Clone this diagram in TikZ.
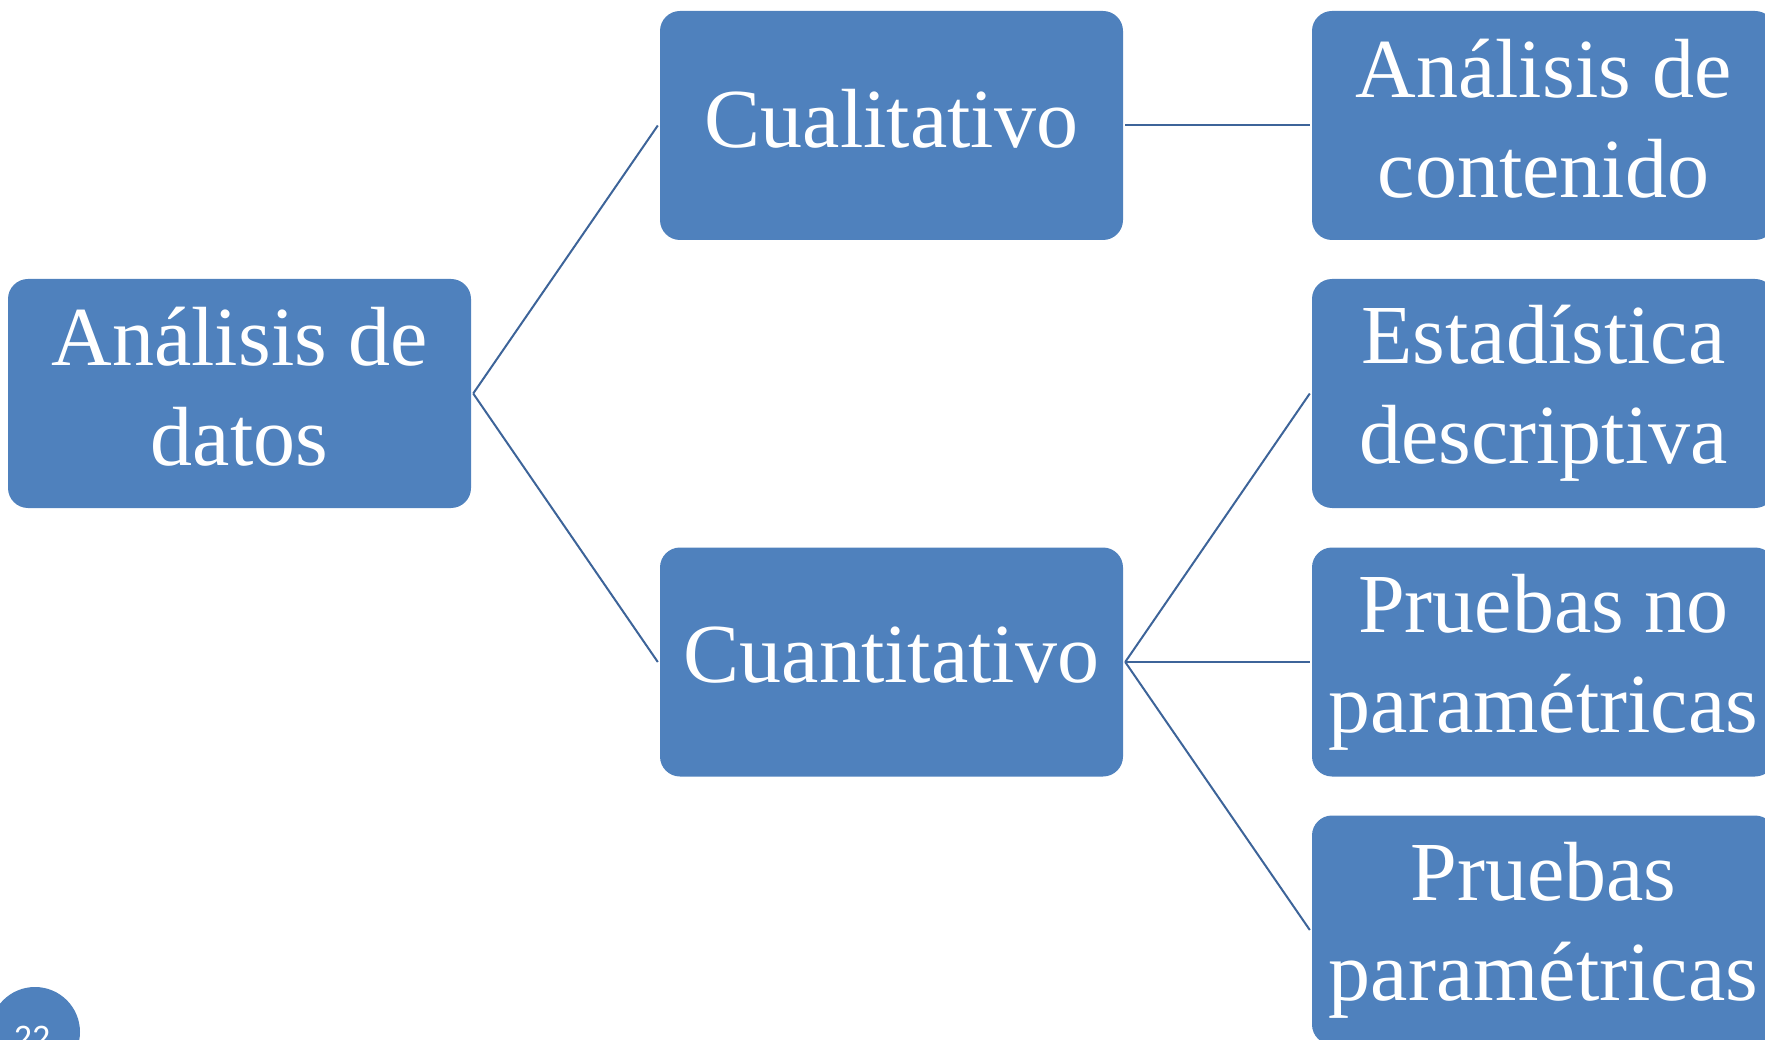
\documentclass[tikz,border=0pt]{standalone}
\usepackage{fontspec}
\setmainfont{Liberation Serif}
\newfontfamily\numfont{Carlito}
\definecolor{boxblue}{HTML}{4F81BD}
\definecolor{lineblue}{HTML}{3D6499}
\newcommand{\dnpad}{\rule[-14pt]{0pt}{0pt}}
\begin{document}
\begin{tikzpicture}[x=1pt,y=-1pt,
  box/.style={fill=boxblue, draw=none, rounded corners=20pt, minimum width=463pt,
    minimum height=229pt, inner sep=0pt, align=center, text=white,
    font=\fontsize{84}{100}\selectfont},
  link/.style={draw=lineblue, line width=2pt}]
\useasboundingbox (0,0) rectangle (1765,1040);
\clip (0,0) rectangle (1765,1040);
\node[box] (root) at (239.5,393.5) {Análisis de\\datos\dnpad};
\node[box] (cual) at (891.5,125.5) {Cualitativo\dnpad};
\node[box] (cuan) at (891.5,662) {Cuantitativo\dnpad};
\node[box] (r1) at (1543.5,125.5) {Análisis de\\contenido\dnpad};
\node[box] (r2) at (1543.5,393.5) {Estadística\\descriptiva\dnpad};
\node[box] (r3) at (1543.5,662) {Pruebas no\\paramétricas\dnpad};
\node[box] (r4) at (1543.5,930) {Pruebas\\paramétricas\dnpad};
\draw[link] ([xshift=2pt]root.east) -- ([xshift=-2pt]cual.west);
\draw[link] ([xshift=2pt]root.east) -- ([xshift=-2pt]cuan.west);
\draw[link] ([xshift=2pt]cual.east) -- ([xshift=-2pt]r1.west);
\draw[link] ([xshift=2pt]cuan.east) -- ([xshift=-2pt]r2.west);
\draw[link] ([xshift=2pt]cuan.east) -- ([xshift=-2pt]r3.west);
\draw[link] ([xshift=2pt]cuan.east) -- ([xshift=-2pt]r4.west);
\node[circle, fill=boxblue, minimum size=90pt, inner sep=0pt] (pg) at (35,1032) {};
\node[text=white, font=\numfont\fontsize{36}{36}\selectfont, anchor=base] (pgn) at (32,1049) {22};
\end{tikzpicture}
\end{document}
